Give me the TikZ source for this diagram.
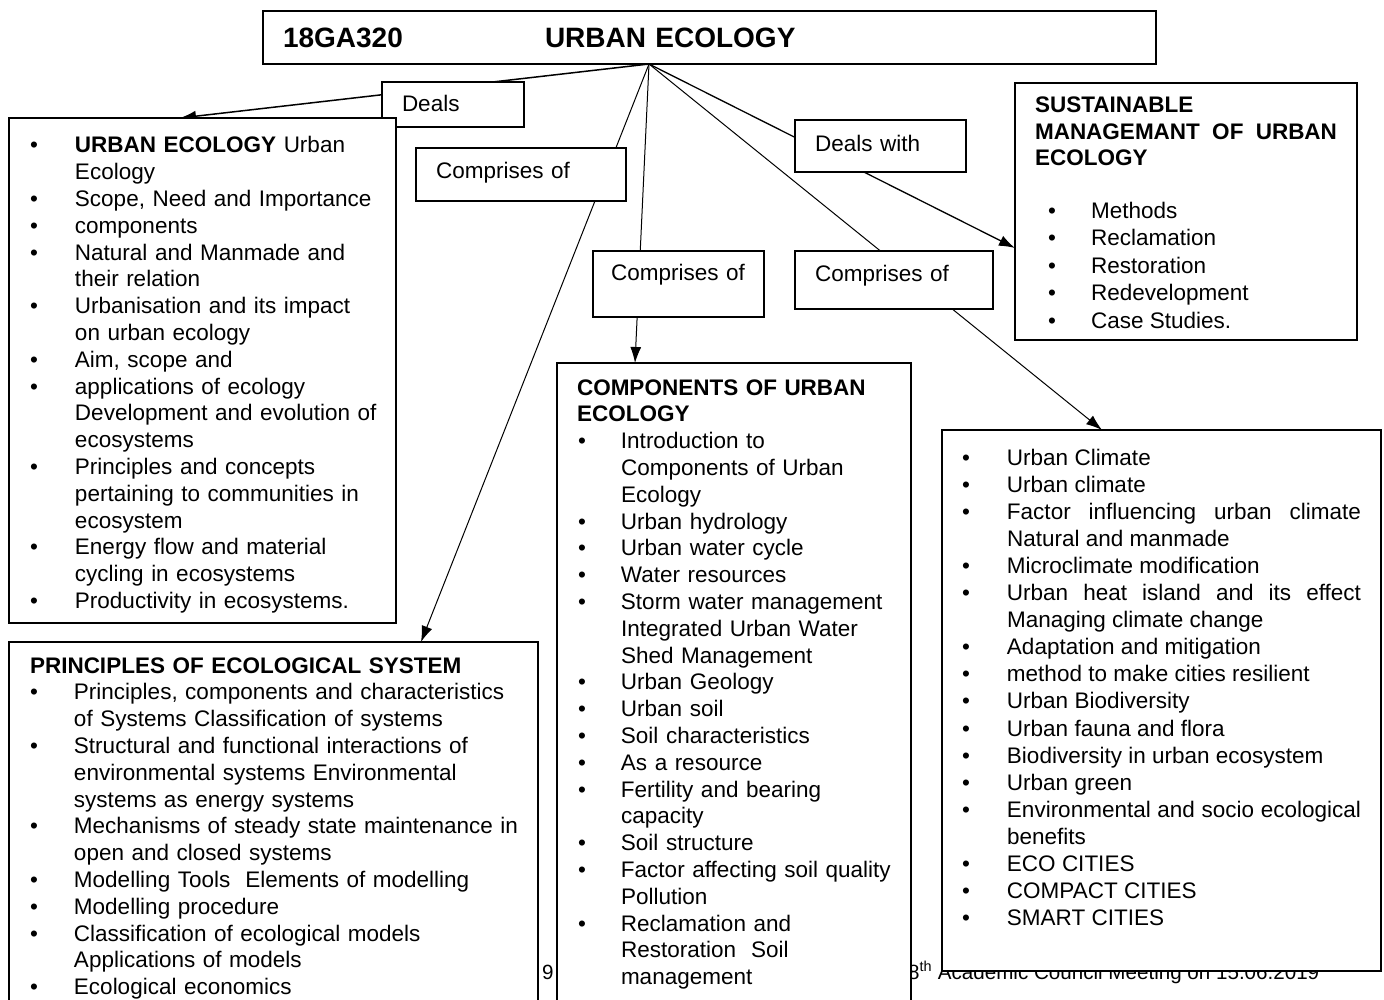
\documentclass[tikz,border=0pt]{standalone}
\usepackage{fontspec}
\setmainfont{Liberation Sans}
\usetikzlibrary{arrows.meta}

\pgfdeclarelayer{back}
\pgfsetlayers{back,main}

\newcommand{\boxfont}{\fontsize{22.5}{26.8}\selectfont}
\newcommand{\footfont}{\fontsize{20.6}{24}\selectfont}
\newcommand{\hangw}{66pt}
\newcommand{\bulx}{21pt}
\newcommand{\setitems}[2]{\renewcommand{\hangw}{#1}\renewcommand{\bulx}{#2}}
% bullet item that goes on in the paragraph already open
\newcommand{\bulhere}{\hangindent=\hangw\hangafter=1\noindent\hbox to \hangw{\hspace*{\bulx}\textbullet\hfil}\ignorespaces}
\newcommand{\bul}{\par\bulhere}

\begin{document}
\begin{tikzpicture}[x=1pt,y=-1pt,>={Latex[length=16pt,width=11pt]},
    box/.style={draw,line width=1.8pt,fill=white,inner sep=0pt,outer sep=0pt,anchor=north west,align=left,font=\boxfont},
    lbl/.style={draw,line width=1.6pt,fill=white,inner ysep=0pt,inner xsep=20pt,outer sep=0pt,anchor=north west,align=left,font=\boxfont},
    link/.style={->,line width=1pt}]

    \useasboundingbox (0,0) rectangle (1384,1000);
    \clip (0,0) rectangle (1384,1000);

    % draw the title
    \node[box,inner xsep=20pt,text width=853pt,text height=37pt,text depth=16pt,font=\fontsize{28}{33}\selectfont\bfseries] (title) at (263,11) {\makebox[262pt][l]{18GA320}URBAN ECOLOGY};
    \coordinate (hub) at ([xshift=386pt]title.south west);

    % draw the labels on the links
    \node[lbl,text width=102pt,text height=30pt,text depth=15pt] (deals) at (382,82) {Deals};
    \node[lbl,text width=170pt,text height=31pt,text depth=22pt] (comp1) at (416,148) {Comprises of};
    \node[lbl,inner xsep=18pt,text width=135pt,text height=30pt,text depth=36pt] (comp2) at (593,251) {Comprises of};
    \node[lbl,text width=131pt,text height=32pt,text depth=20pt] (dealsw) at (795,120) {Deals with};
    \node[lbl,text width=158pt,text height=31pt,text depth=27pt] (comp3) at (795,251) {Comprises of};

    % urban ecology
    \node[box,text width=387pt,text height=35pt,text depth=470pt] (ue) at (9,118) {\setitems{66pt}{21pt}%
        \bulhere \textbf{URBAN ECOLOGY} Urban\newline Ecology
        \bul Scope, Need and Importance
        \bul components
        \bul Natural and Manmade and\newline their relation
        \bul Urbanisation and its impact\newline on urban ecology
        \bul Aim, scope and
        \bul applications of ecology\newline Development and evolution of\newline ecosystems
        \bul Principles and concepts\newline pertaining to communities in\newline ecosystem
        \bul Energy flow and material\newline cycling in ecosystems
        \bul Productivity in ecosystems.\par};

    % principles
    \node[box,text width=529pt,text height=31pt,text depth=400pt] (pes) at (9,642) {\hangindent=21pt\hangafter=0\noindent\textbf{PRINCIPLES OF ECOLOGICAL SYSTEM}\setitems{65pt}{21pt}
        \bul Principles, components and characteristics\newline of Systems Classification of systems
        \bul Structural and functional interactions of\newline environmental systems Environmental\newline systems as energy systems
        \bul Mechanisms of steady state maintenance in\newline open and closed systems
        \bul Modelling Tools\ \ Elements of modelling
        \bul Modelling procedure
        \bul Classification of ecological models\newline Applications of models
        \bul Ecological economics\par};

    % components
    \node[box,text width=354pt,text height=32pt,text depth=620pt] (cue) at (557,363) {\hangindent=20pt\hangafter=0\noindent\textbf{COMPONENTS OF URBAN\newline ECOLOGY}\setitems{64pt}{21pt}
        \bul Introduction to\newline Components of Urban\newline Ecology
        \bul Urban hydrology
        \bul Urban water cycle
        \bul Water resources
        \bul Storm water management\newline Integrated Urban Water\newline Shed Management
        \bul Urban Geology
        \bul Urban soil
        \bul Soil characteristics
        \bul As a resource
        \bul Fertility and bearing\newline capacity
        \bul Soil structure
        \bul Factor affecting soil quality\newline Pollution
        \bul Reclamation and\newline Restoration\ \ Soil\newline management\par};

    % sustainable management
    \node[box,inner xsep=20pt,text width=302pt,text height=30pt,text depth=227pt,align=justify] (sum) at (1015,83) {\fontsize{22.5}{26.2}\selectfont\textbf{SUSTAINABLE\newline MANAGEMANT OF URBAN\linebreak ECOLOGY}\par\vspace{25.5pt}\fontsize{22.5}{27.5}\selectfont\setitems{56pt}{13pt}
        \bul Methods
        \bul Reclamation
        \bul Restoration
        \bul Redevelopment
        \bul Case Studies.\par};

    % urban climate
    \node[box,inner xsep=20pt,text width=399pt,text height=35pt,text depth=506pt,align=justify,font=\fontsize{22.5}{27.1}\selectfont] (ucl) at (942,430) {\setitems{45pt}{0pt}%
        \bulhere Urban Climate
        \bul Urban climate
        \bul Factor influencing urban climate\linebreak Natural and manmade
        \bul Microclimate modification
        \bul Urban heat island and its effect\linebreak Managing climate change
        \bul Adaptation and mitigation
        \bul method to make cities resilient
        \bul Urban Biodiversity
        \bul Urban fauna and flora
        \bul Biodiversity in urban ecosystem
        \bul Urban green
        \bul Environmental and socio ecological\linebreak benefits
        \bul ECO CITIES
        \bul COMPACT CITIES
        \bul SMART CITIES\par};

    % arrow ends
    \coordinate (ueTip) at ([xshift=171pt]ue.north west);
    \coordinate (pesTip) at ([xshift=412pt]pes.north west);
    \coordinate (cueTip) at ([xshift=78pt]cue.north west);
    \coordinate (sumTip) at ([yshift=-165pt]sum.north west);
    \coordinate (uclTip) at ([xshift=160pt]ucl.north west);

    \begin{pgfonlayer}{back}
        % draw the links from the title
        \draw[link,line width=1.5pt] (hub) -- (ueTip);
        \draw[link] (hub) -- (pesTip);
        \draw[link] (hub) -- (cueTip);
        \draw[link,line width=1.3pt] (hub) -- (sumTip);
        \draw[link] (hub) -- (uclTip);

        % footer of the page
        \node[anchor=base west,inner sep=0pt,font=\footfont] (pgno) at (542,979) {9};
        \node[anchor=base west,inner sep=0pt,font=\footfont] (meeting) at (908,979) {8\textsuperscript{th} Academic Council Meeting on 15.06.2019};
    \end{pgfonlayer}
\end{tikzpicture}
\end{document}
